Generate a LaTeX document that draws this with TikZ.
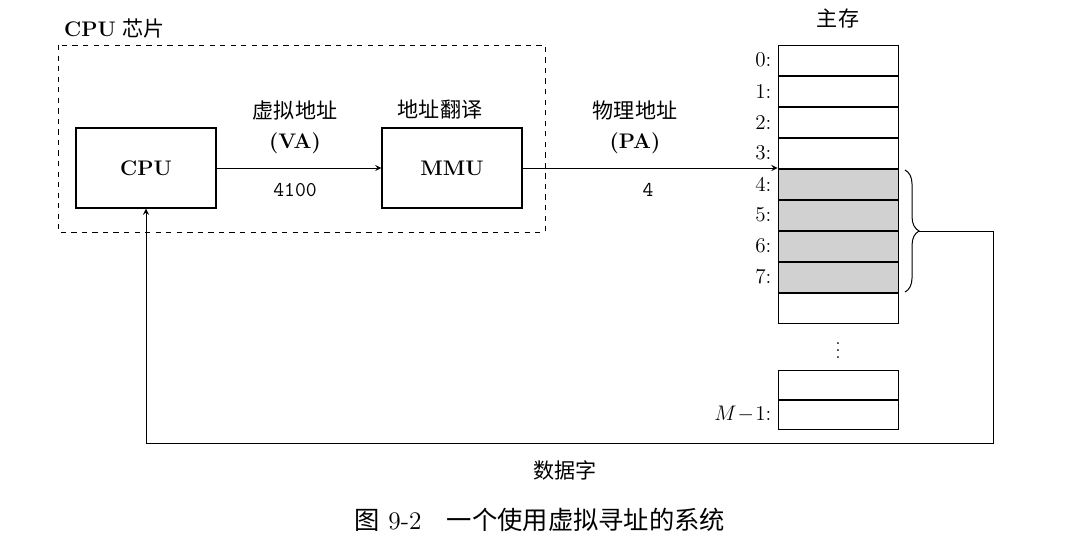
\documentclass[tikz,border=0pt]{standalone}
\usepackage{fontspec}
\newfontfamily\cjk{Noto Sans CJK SC}
\usetikzlibrary{positioning,decorations.pathreplacing}

\tikzset{
  box/.style={draw,line width=0.25mm,minimum width=2.8cm,minimum height=1.6cm,font=\large\bfseries},
  cell/.style={draw,line width=0.2mm,minimum width=2.4cm,minimum height=0.6cm,inner sep=0pt},
  lbl/.style={font=\large},
  conn/.style={-stealth,line width=0.2mm}
}

\begin{document}
\begin{tikzpicture}[x=0.02cm,y=-0.02cm]
\useasboundingbox (0,0) rectangle (1081,559);
% chip
\node[lbl,anchor=west] (chip) at (58,28) {\textbf{CPU} {\cjk 芯片}};
\draw[dashed,line width=0.2mm] (58,45) rectangle (545,232);
\node[box] (cpu) at (146,168) {CPU};
\node[box] (mmu) at (452,168) {MMU};
\node[lbl] (va1) at (295,110) {\cjk 虚拟地址};
\node[lbl] (va2) at (295,143) {\textbf{(VA)}};
\node[lbl,font=\large\ttfamily] (va3) at (295,190) {4100};
\node[lbl] (tr) at (440,110) {\cjk 地址翻译};
\node[lbl] (pa1) at (635,110) {\cjk 物理地址};
\node[lbl] (pa2) at (635,143) {\textbf{(PA)}};
\node[lbl,font=\large\ttfamily] (pa3) at (648,190) {4};
% memory
\node[lbl] (mem) at (838,18) {\cjk 主存};
\foreach \i in {0,...,8}{
  \ifnum\i>3 \ifnum\i<8 \def\fc{black!18}\else\def\fc{white}\fi \else\def\fc{white}\fi
  \node[cell,fill=\fc] (c\i) at (838,60+31*\i) {};
  \ifnum\i<8 \node[lbl,anchor=east] at (c\i.west) {\i:};\fi
}
\node[inner sep=0pt] (dots) at (838,345) {$\vdots$};
\node[cell] (c9) at (838,385) {};
\node[cell] (c10) at (838,414) {};
\node[lbl,anchor=east] at (c10.west) {$M\!-\!1$:};
% connectors
\draw[conn] (cpu) -- (mmu);
\draw[conn] (mmu.east) -- (mmu.east -| c4.west);
\draw[decorate,decoration={brace,amplitude=8pt},line width=0.2mm] (905,170) -- coordinate[xshift=8pt] (tip) (905,292);
\coordinate (r) at (993,443);
\draw[conn] (tip) -- (tip -| r) -- (r) -- (r -| cpu) -- (cpu.south);
\node[lbl] (word) at (565,470) {\cjk 数据字};
\node[font=\Large] (cap) at (540,520) {{\cjk 图} 9-2\quad{\cjk 一个使用虚拟寻址的系统}};
\end{tikzpicture}
\end{document}
